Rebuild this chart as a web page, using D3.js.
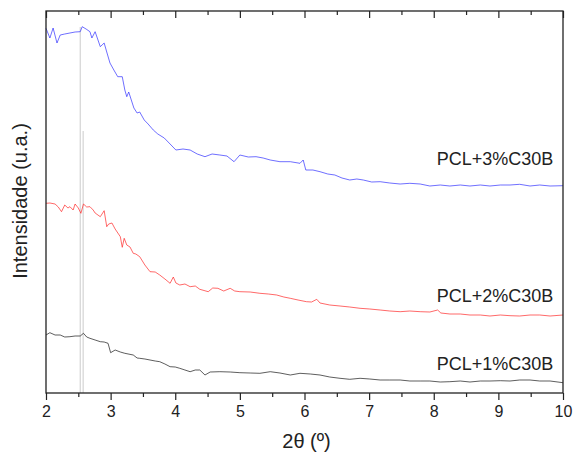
<!DOCTYPE html>
<html>
<head>
<meta charset="utf-8">
<title>DRX PCL/C30B</title>
<style>
  body { margin: 0; background: #fff; }
  text { font-family: Arial, "Liberation Sans", sans-serif; fill: #222; }
</style>
</head>
<body>
<script src="https://cdn.jsdelivr.net/npm/d3@7/dist/d3.min.js"></script>
<script>
// 2θ (º) and intensity (u.a.)
var theta3 = [2.00,2.06,2.11,2.17,2.22,2.29,2.37,2.45,2.53,2.56,2.62,2.68,2.71,2.76,2.84,2.90,2.94,2.99,3.05,3.11,3.18,3.22,3.25,3.28,3.32,3.36,3.41,3.45,3.52,3.58,3.66,3.73,3.83,3.92,4.01,4.12,4.23,4.34,4.46,4.57,4.69,4.80,4.91,5.00,5.13,5.25,5.36,5.47,5.62,5.78,5.93,5.98,6.02,6.13,6.24,6.36,6.47,6.58,6.70,6.81,6.91,7.04,7.17,7.32,7.48,7.63,7.79,7.94,8.10,8.25,8.41,8.56,8.72,8.87,9.03,9.18,9.33,9.49,9.64,9.80,10.00];
var pcl3 = [3647,3550,3650,3500,3580,3590,3600,3610,3613,3663,3640,3613,3550,3613,3463,3500,3410,3300,3230,3163,3163,3030,2963,3010,2930,2850,2800,2810,2730,2690,2630,2590,2550,2490,2430,2440,2430,2390,2363,2390,2380,2370,2313,2380,2360,2363,2350,2330,2313,2313,2297,2330,2230,2230,2213,2190,2180,2150,2130,2140,2130,2110,2113,2100,2090,2097,2090,2070,2080,2070,2080,2070,2080,2070,2080,2080,2087,2070,2080,2070,2073];

var theta2 = [2.00,2.06,2.14,2.19,2.24,2.29,2.34,2.37,2.42,2.45,2.50,2.54,2.58,2.63,2.68,2.73,2.76,2.84,2.90,2.94,2.97,3.02,3.07,3.15,3.18,3.21,3.25,3.30,3.35,3.39,3.45,3.53,3.61,3.69,3.76,3.84,3.92,3.97,4.01,4.07,4.15,4.23,4.31,4.38,4.51,4.58,4.66,4.75,4.85,4.92,5.00,5.16,5.31,5.44,5.57,5.68,5.78,5.90,6.03,6.11,6.19,6.24,6.39,6.55,6.70,6.86,7.01,7.17,7.32,7.48,7.63,7.79,7.94,8.06,8.11,8.25,8.41,8.56,8.72,8.87,9.03,9.18,9.33,9.49,9.64,9.80,10.00];
var pcl2 = [1897,1900,1890,1860,1813,1880,1850,1863,1830,1890,1850,1797,1890,1860,1863,1830,1800,1763,1823,1663,1690,1700,1640,1563,1457,1547,1480,1460,1397,1390,1363,1280,1213,1210,1180,1140,1097,1160,1100,1080,1090,1063,1070,1037,1013,1050,1047,1020,1047,1020,1013,1010,997,990,980,960,947,930,913,910,937,900,880,870,860,847,840,830,820,813,820,813,810,830,800,790,790,780,780,770,780,773,770,780,780,770,780];

var theta1 = [2.00,2.06,2.14,2.22,2.29,2.37,2.45,2.53,2.58,2.63,2.68,2.76,2.84,2.90,2.96,3.00,3.07,3.15,3.22,3.35,3.41,3.45,3.53,3.61,3.69,3.76,3.84,3.92,4.00,4.07,4.15,4.23,4.31,4.38,4.46,4.54,4.69,4.85,5.00,5.16,5.31,5.47,5.62,5.78,5.93,6.09,6.24,6.39,6.55,6.70,6.86,7.01,7.17,7.32,7.48,7.63,7.79,7.94,8.10,8.25,8.41,8.56,8.72,8.87,9.03,9.18,9.33,9.49,9.64,9.80,10.00];
var pcl1 = [580,603,580,580,560,563,570,570,597,560,547,530,513,510,497,403,430,410,397,380,350,347,340,330,320,313,290,263,260,247,230,213,230,230,180,210,213,210,203,200,197,213,200,180,197,190,180,160,147,137,147,140,130,130,130,120,120,120,110,113,120,110,120,120,123,120,130,130,120,120,103];

var seriesNames = ["PCL+3%C30B", "PCL+2%C30B", "PCL+1%C30B"];
var seriesColors = ["#2a2aff", "#ff2020", "#111111"];
// reference lines (2θ, top intensity)
var refTheta = [2.53, 2.575];
var refTop = [3660, 2620];

var W = 576, H = 454;
var margin = {left: 46, right: 13, top: 11, bottom: 61};
var iw = W - margin.left - margin.right;
var ih = H - margin.top - margin.bottom;

var svg = d3.select("body").append("svg")
    .attr("width", W)
    .attr("height", H);

var g = svg.append("g")
    .attr("transform", "translate(" + margin.left + "," + margin.top + ")");

var x = d3.scaleLinear().domain([2, 10]).range([0, iw]);
var y = d3.scaleLinear().domain([0, 3820]).range([ih, 0]);

// gray reference lines
refTheta.forEach(function (t, i) {
    g.append("line")
        .attr("x1", x(t)).attr("x2", x(t))
        .attr("y1", y(refTop[i])).attr("y2", y(0))
        .attr("stroke", "#d4d4d4")
        .attr("stroke-width", 1.2);
});

var line = d3.line()
    .x(function (d) { return x(d[0]); })
    .y(function (d) { return y(d[1]); });

var series = [d3.zip(theta3, pcl3), d3.zip(theta2, pcl2), d3.zip(theta1, pcl1)];

series.forEach(function (s, i) {
    g.append("path")
        .datum(s)
        .attr("fill", "none")
        .attr("stroke", seriesColors[i])
        .attr("stroke-width", 0.8)
        .attr("stroke-opacity", 0.85)
        .attr("d", line);
});

// series labels, right aligned near the frame
var labelAt = [[9.85, 2280], [9.85, 910], [9.85, 230]];
seriesNames.forEach(function (n, i) {
    g.append("text")
        .attr("x", x(labelAt[i][0]))
        .attr("y", y(labelAt[i][1]))
        .attr("text-anchor", "end")
        .attr("font-size", 18)
        .text(n);
});

// bottom axis
var ticks = d3.range(2, 10.01, 1);
var minor = d3.range(2.5, 10, 1);
var bottomAxis = g.append("g").attr("transform", "translate(0," + ih + ")");
bottomAxis.call(d3.axisBottom(x).tickValues(ticks).tickSize(7).tickPadding(6).tickFormat(d3.format("d")));
bottomAxis.append("g").call(d3.axisBottom(x).tickValues(minor).tickSize(4).tickFormat(""));
bottomAxis.selectAll("text").attr("font-size", 16).attr("fill", "#222");

// top axis, ticks inward
var topAxis = g.append("g");
topAxis.call(d3.axisBottom(x).tickValues(ticks).tickSize(7).tickFormat(""));
topAxis.append("g").call(d3.axisBottom(x).tickValues(minor).tickSize(4).tickFormat(""));

g.selectAll(".domain").remove();
g.selectAll(".tick line").attr("stroke", "#222").attr("stroke-width", 1.2);

// frame
g.append("rect")
    .attr("width", iw).attr("height", ih)
    .attr("fill", "none")
    .attr("stroke", "#222")
    .attr("stroke-width", 1.3);

// axis titles
svg.append("text")
    .attr("x", margin.left + iw / 2 + 2)
    .attr("y", 448)
    .attr("text-anchor", "middle")
    .attr("font-size", 20)
    .text("2θ (º)");

svg.append("text")
    .attr("transform", "translate(27," + (margin.top + ih / 2 - 1) + ") rotate(-90)")
    .attr("text-anchor", "middle")
    .attr("font-size", 20)
    .text("Intensidade (u.a.)");
</script>
</body>
</html>
